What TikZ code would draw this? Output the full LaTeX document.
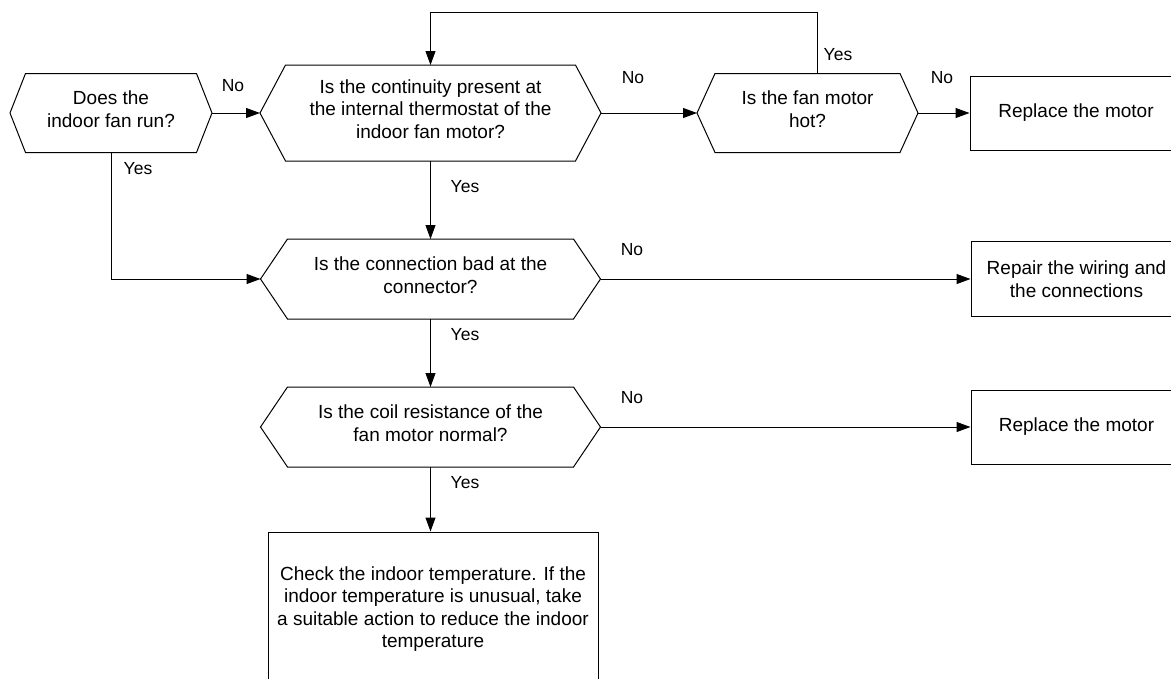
\documentclass[tikz,border=0pt]{standalone}
\usepackage{fontspec}
\setmainfont{Liberation Sans}
\usetikzlibrary{arrows.meta}

\tikzset{
  x=1pt, y=-1pt,
  line/.style={line width=1pt},
  conn/.style={line width=1pt, -{Triangle[length=14pt,width=10pt]}},
  lbl/.style={font=\fontsize{17.5}{20}\selectfont, inner sep=0pt},
  txt/.style={align=center, font=\fontsize{19}{22.5}\selectfont, inner sep=0pt},
  boxst/.style={draw, line width=1pt, inner sep=0pt, align=center, font=\fontsize{19}{22.5}\selectfont},
}

% name, cx, cy, half flat width, half height, inset, text
\newcommand{\hexa}[7]{%
  \draw[line] (#2-#4,#3-#5) -- (#2+#4,#3-#5) -- (#2+#4+#6,#3) -- (#2+#4,#3+#5)
     -- (#2-#4,#3+#5) -- (#2-#4-#6,#3) -- cycle;
  \node[txt, yshift=4pt] (#1) at (#2,#3) {#7};
  \coordinate (#1-w) at (#2-#4-#6,#3);
  \coordinate (#1-e) at (#2+#4+#6,#3);
  \coordinate (#1-n) at (#2,#3-#5);
  \coordinate (#1-s) at (#2,#3+#5);
}

\begin{document}
\begin{tikzpicture}
\useasboundingbox (0,0) rectangle (1171,678);
\clip (0,0) rectangle (1171,678);

\hexa{h1}{111}{113}{85.5}{39.5}{15.5}{Does the\\indoor fan run?}
\hexa{h2}{430.5}{113}{145}{48}{25.5}{Is the continuity present at\\the internal thermostat of the\\indoor fan motor?}
\hexa{fan}{807.5}{113}{92.5}{39.5}{18}{Is the fan motor\\hot?}
\hexa{h3}{430.5}{279}{143}{40}{27}{Is the connection bad at the\\connector?}
\hexa{h4}{430.5}{427}{143}{40}{27}{Is the coil resistance of the\\fan motor normal?}

\node[boxst, minimum width=212pt, minimum height=74pt] (r1) at (1076,113) {Replace the motor};
\node[boxst, minimum width=211pt, minimum height=75pt] (r2) at (1076.5,279) {Repair the wiring and\\the connections};
\node[boxst, minimum width=211pt, minimum height=74pt] (r3) at (1076.5,427) {Replace the motor};
\node[boxst, minimum width=330pt, minimum height=154pt] (b) at (433,609) {Check the indoor temperature. If the\\indoor temperature is unusual, take\\a suitable action to reduce the indoor\\temperature};

\coordinate (lp1) at (817,12);
\coordinate (lp2) at (430.5,12);

\draw[conn] (h1-e) -- (h2-w);
\draw[conn] (h2-e) -- (fan-w);
\draw[conn] (fan-e) -- (r1.west);
\draw[conn] (lp1 |- fan-n) -- (lp1) -- (lp2) -- (h2-n);
\draw[conn] (h2-s) -- (h3-n);
\draw[conn] (h1-s) -- (h1-s |- h3-w) -- (h3-w);
\draw[conn] (h3-e) -- (r2.west);
\draw[conn] (h3-s) -- (h4-n);
\draw[conn] (h4-e) -- (r3.west);
\draw[conn] (h4-s) -- (h4-s |- b.north);

\node[lbl] (l1) at (233,86) {No};
\node[lbl] (l2) at (138,169) {Yes};
\node[lbl] (l3) at (633,78) {No};
\node[lbl] (l4) at (838,55) {Yes};
\node[lbl] (l5) at (942,78) {No};
\node[lbl] (l6) at (465,187) {Yes};
\node[lbl] (l7) at (632,250) {No};
\node[lbl] (l8) at (465,335) {Yes};
\node[lbl] (l9) at (632,398) {No};
\node[lbl] (l10) at (465,483) {Yes};
\end{tikzpicture}
\end{document}
